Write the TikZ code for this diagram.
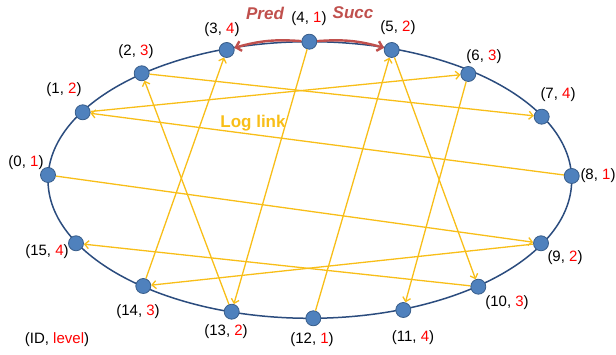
\documentclass[tikz,border=0pt]{standalone}
\usepackage{fontspec}
\setmainfont{Liberation Sans}
\usetikzlibrary{arrows.meta}
\definecolor{nodefill}{HTML}{4F81BD}
\definecolor{nodeedge}{HTML}{385D8A}
\definecolor{ringblue}{HTML}{2B4C7E}
\definecolor{linkyellow}{HTML}{F8BE18}
\definecolor{predred}{HTML}{C0504D}
\begin{document}
\begin{tikzpicture}[x=1pt,y=1pt,
  vtx/.style={circle,fill=nodefill,draw=nodeedge,line width=0.8pt,minimum size=15pt,inner sep=0pt},
  lbl/.style={font=\fontsize{15}{17}\selectfont,inner sep=0pt},
  loglink/.style={draw=linkyellow,line width=1.3pt,-{Straight Barb[length=4pt,width=8pt]}},
  nbr/.style={draw=predred,line width=2.4pt,-{Straight Barb[length=5pt,width=10pt]}},
  ring/.style={draw=ringblue,line width=1.5pt},
  tag/.style={text=predred,font=\fontsize{17}{19}\selectfont\bfseries\itshape,inner sep=0pt}
]
\useasboundingbox (0,0) rectangle (616,355);
\draw[ring] (309.85,175) ellipse [x radius=261.85, y radius=138.3];

\node[vtx] (n0) at (48,180) {};
\node[vtx] (n1) at (82.7,242.7) {};
\node[vtx] (n2) at (141.7,281.7) {};
\node[vtx] (n3) at (226.7,305) {};
\node[vtx] (n4) at (309.3,313.3) {};
\node[vtx] (n5) at (391.7,305) {};
\node[vtx] (n6) at (468.3,281) {};
\node[vtx] (n7) at (541.7,238.3) {};
\node[vtx] (n8) at (571.7,179) {};
\node[vtx] (n9) at (541,111.7) {};
\node[vtx] (n10) at (478.3,68.3) {};
\node[vtx] (n11) at (403.3,45) {};
\node[vtx] (n12) at (313.3,36.7) {};
\node[vtx] (n13) at (231.7,43.3) {};
\node[vtx] (n14) at (143.3,69) {};
\node[vtx] (n15) at (76,111.7) {};

\node[lbl] (l0) at (26,192) {(0, \textcolor{red}{1})};
\node[lbl] (l1) at (64,265) {(1, \textcolor{red}{2})};
\node[lbl] (l2) at (136,303) {(2, \textcolor{red}{3})};
\node[lbl] (l3) at (222,325) {(3, \textcolor{red}{4})};
\node[lbl] (l4) at (309,336) {(4, \textcolor{red}{1})};
\node[lbl] (l5) at (398,327) {(5, \textcolor{red}{2})};
\node[lbl] (l6) at (484,298) {(6, \textcolor{red}{3})};
\node[lbl] (l7) at (558,260) {(7, \textcolor{red}{4})};
\node[lbl] (l8) at (598,179) {(8, \textcolor{red}{1})};
\node[lbl] (l9) at (565,97) {(9, \textcolor{red}{2})};
\node[lbl] (l10) at (507,52) {(10, \textcolor{red}{3})};
\node[lbl] (l11) at (413,17) {(11, \textcolor{red}{4})};
\node[lbl] (l12) at (312,15) {(12, \textcolor{red}{1})};
\node[lbl] (l13) at (226,23) {(13, \textcolor{red}{2})};
\node[lbl] (l14) at (138,43) {(14, \textcolor{red}{3})};
\node[lbl] (l15) at (47,103) {(15, \textcolor{red}{4})};
\node[lbl] (legend) at (57,15) {(ID, \textcolor{red}{level})};

\node[tag] (pred) at (265,342) {Pred};
\node[tag] (succ) at (353,342) {Succ};
\node[text=linkyellow,font=\fontsize{17}{19}\selectfont\bfseries,inner sep=0pt] (loglabel) at (253,232) {Log link};

\draw[loglink] (n2) -- (n7);
\draw[loglink] (n1) -- (n6);
\draw[loglink] (n8) -- (n1);
\draw[loglink] (n0) -- (n9);
\draw[loglink] (n10) -- (n15);
\draw[loglink] (n9) -- (n14);
\draw[loglink] (n13) -- (n2);
\draw[loglink] (n14) -- (n3);
\draw[loglink] (n4) -- (n13);
\draw[loglink] (n12) -- (n5);
\draw[loglink] (n5) -- (n10);
\draw[loglink] (n6) -- (n11);

\draw[nbr] (n4) to[bend right=10] (n3);
\draw[nbr] (n4) to[bend left=10] (n5);
\end{tikzpicture}
\end{document}
